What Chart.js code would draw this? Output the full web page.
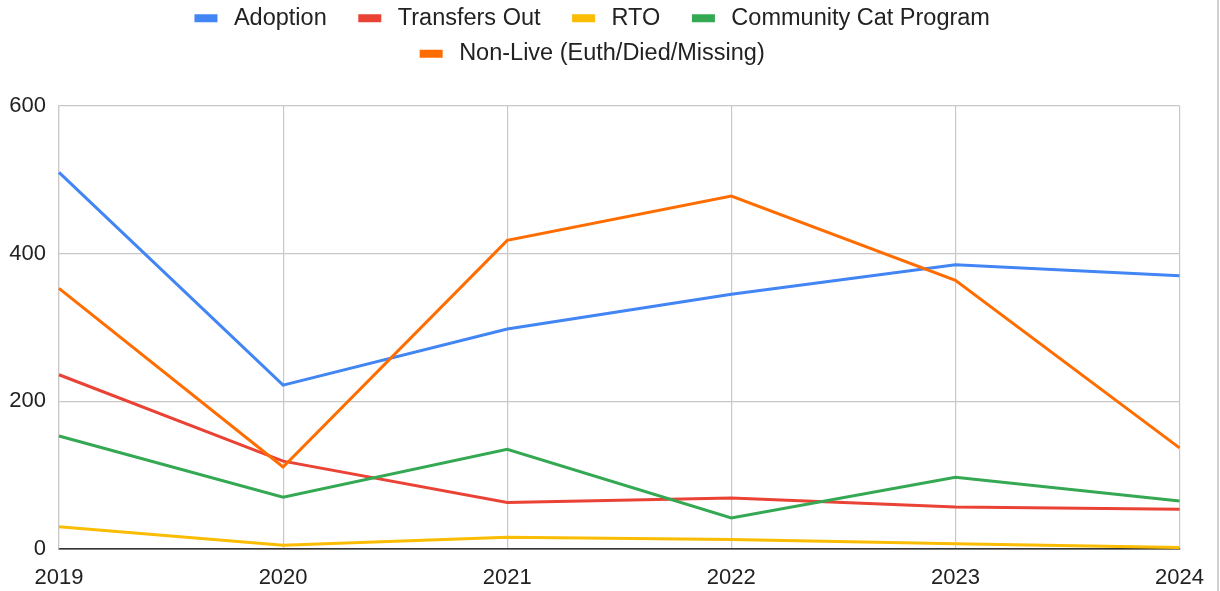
<!DOCTYPE html>
<html lang="en">
<head>
    <meta charset="UTF-8">
    <title>Cat Outcomes 2019-2024</title>
    <script src="https://cdn.jsdelivr.net/npm/chart.js"></script>
    <style>
        body { margin: 0; background: #fff; }
        .wrap { position: relative; width: 1220px; height: 591px; }
        .edge { position: absolute; left: 1217px; top: 0; width: 2px; height: 591px; background: #d0d0d0; }
    </style>
</head>
<body>
    <div class="wrap">
        <canvas id="myChart" width="1220" height="591"></canvas>
        <div class="edge"></div>
    </div>

    <script>
        // data
        const years = ["2019", "2020", "2021", "2022", "2023", "2024"];
        const adoption = [510, 222, 298, 345, 385, 370];
        const transfersOut = [236, 119, 63, 69, 57, 54];
        const rto = [30, 5, 16, 13, 7, 2];
        const communityCat = [153, 70, 135, 42, 97, 65];
        const nonLive = [353, 111, 418, 478, 364, 137];
        const yTicks = [0, 200, 400, 600];

        const seriesNames = ["Adoption", "Transfers Out", "RTO", "Community Cat Program", "Non-Live (Euth/Died/Missing)"];
        const seriesData = [adoption, transfersOut, rto, communityCat, nonLive];
        const colors = ["#4285F4", "#EA4335", "#FBBC04", "#34A853", "#FF6D01"];

        const font = "Arial, 'Liberation Sans', sans-serif";

        const datasets = seriesNames.map((name, i) => ({
            label: name,
            data: seriesData[i],
            borderColor: colors[i],
            backgroundColor: colors[i],
            borderWidth: 3,
            pointRadius: 0,
            tension: 0,
            fill: false,
            order: seriesNames.length - i   // later series drawn on top
        }));

        // two-row legend, centred like the original
        const legendTweak = {
            id: 'legendTweak',
            beforeLayout(chart) {
                const legend = chart.legend;
                if (!legend || legend._tweaked) return;
                legend._tweaked = true;
                const fit = legend.fit;
                legend.fit = function () {
                    const w = this.maxWidth;
                    this.maxWidth = 1000;
                    fit.call(this);
                    this.maxWidth = w;
                    this.width = w;
                    this.height = 106;
                };
            },
            afterLayout(chart) {
                const legend = chart.legend;
                legend.left = 0;
                legend.right = 1204;
                legend.top = -5.5;
                legend.bottom = legend.top + legend.height;
            }
        };

        const ctx = document.getElementById('myChart').getContext('2d');
        new Chart(ctx, {
            type: 'line',
            data: { labels: years, datasets: datasets },
            plugins: [legendTweak],
            options: {
                responsive: false,
                animation: false,
                layout: { padding: { left: 0, right: 40, top: 0, bottom: 0 } },
                plugins: {
                    tooltip: { enabled: false },
                    legend: {
                        position: 'top',
                        labels: {
                            boxWidth: 23,
                            boxHeight: 8,
                            padding: 12,
                            color: '#222',
                            font: { family: font, size: 23.5 },
                            sort: (a, b) => a.datasetIndex - b.datasetIndex,
                            generateLabels(chart) {
                                const items = Chart.defaults.plugins.legend.labels.generateLabels(chart);
                                return items.map(it => ({ ...it, text: '\u2009' + it.text + '   ', lineWidth: 0 }));
                            }
                        }
                    }
                },
                scales: {
                    x: {
                        afterFit(scale) { scale.height = 42; },
                        grid: { color: '#c8c8c8', lineWidth: 1.2, drawTicks: false },
                        border: { color: '#333333', width: 1.5 },
                        ticks: {
                            color: '#222',
                            font: { family: font, size: 22 },
                            padding: 16,
                            maxRotation: 0,
                            autoSkip: false
                        }
                    },
                    y: {
                        min: 0,
                        max: 600,
                        afterFit(scale) { scale.width = 59; },
                        afterBuildTicks(scale) { scale.ticks = yTicks.map(v => ({ value: v })); },
                        grid: {
                            color: c => (c.tick && c.tick.value === 0) ? '#333333' : '#c8c8c8',
                            lineWidth: 1.2,
                            drawTicks: false
                        },
                        border: { color: '#c8c8c8', width: 1.2 },
                        ticks: {
                            color: '#222',
                            font: { family: font, size: 22 },
                            padding: 13
                        }
                    }
                }
            }
        });
    </script>
</body>
</html>
